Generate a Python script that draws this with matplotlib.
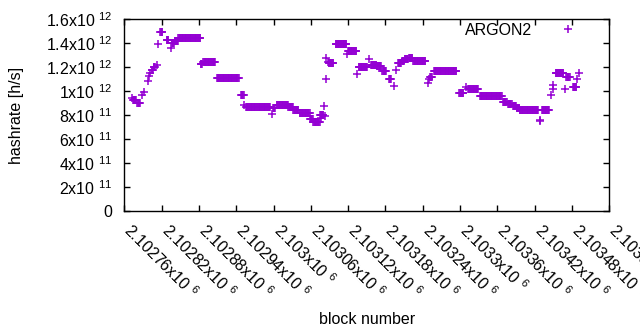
import numpy as np
import matplotlib
matplotlib.use("Agg")
import matplotlib.pyplot as plt
from matplotlib.transforms import blended_transform_factory, ScaledTranslation

plt.rcParams['font.family'] = ['Liberation Sans', 'DejaVu Sans']
plt.rcParams['mathtext.default'] = 'regular'

# ---- data (runs of constant hashrate) ----
run_start = [2102773, 2102774, 2102781, 2102789, 2102792, 2102798, 2102800, 2102802, 2102804, 2102807,
             2102812, 2102815, 2102818, 2102828, 2102835, 2102837, 2102841, 2102847, 2102883, 2102887,
             2102909, 2102948, 2102953, 2102956, 2102997, 2102999, 2103005, 2103024, 2103032, 2103042,
             2103059, 2103064, 2103075, 2103077, 2103081, 2103082, 2103084, 2103085, 2103087, 2103089,
             2103100, 2103118, 2103120, 2103134, 2103137, 2103154, 2103157, 2103166, 2103175, 2103186,
             2103194, 2103197, 2103200, 2103207, 2103211, 2103218, 2103225, 2103248, 2103250, 2103252,
             2103258, 2103299, 2103310, 2103313, 2103332, 2103369, 2103377, 2103385, 2103391, 2103396,
             2103428, 2103429, 2103432, 2103446, 2103449, 2103450, 2103454, 2103469, 2103471, 2103482,
             2103488, 2103491]
run_end = [2102773, 2102779, 2102785, 2102789, 2102792, 2102798, 2102800, 2102802, 2102806, 2102809,
           2102812, 2102815, 2102821, 2102831, 2102835, 2102840, 2102846, 2102882, 2102885, 2102906,
           2102944, 2102952, 2102953, 2102994, 2102997, 2103002, 2103023, 2103031, 2103040, 2103058,
           2103063, 2103074, 2103080, 2103077, 2103081, 2103082, 2103084, 2103085, 2103087, 2103096,
           2103117, 2103118, 2103133, 2103134, 2103150, 2103154, 2103165, 2103173, 2103181, 2103189,
           2103194, 2103197, 2103205, 2103210, 2103216, 2103223, 2103244, 2103248, 2103250, 2103255,
           2103294, 2103305, 2103310, 2103329, 2103367, 2103375, 2103383, 2103390, 2103395, 2103425,
           2103428, 2103429, 2103443, 2103446, 2103449, 2103450, 2103466, 2103469, 2103476, 2103487,
           2103488, 2103491]
run_hashrate_e12 = [0.942, 0.930, 0.905, 0.965, 0.990, 1.088, 1.125, 1.155, 1.180, 1.200,
                    1.215, 1.390, 1.497, 1.430, 1.357, 1.405, 1.420, 1.447, 1.230, 1.245,
                    1.107, 0.972, 0.888, 0.872, 0.808, 0.860, 0.887, 0.867, 0.847, 0.820,
                    0.770, 0.742, 0.800, 0.778, 0.875, 0.790, 1.100, 1.280, 1.240, 1.232,
                    1.398, 1.312, 1.332, 1.145, 1.198, 1.265, 1.222, 1.212, 1.165, 1.098,
                    1.045, 1.180, 1.235, 1.255, 1.268, 1.280, 1.250, 1.072, 1.105, 1.115,
                    1.172, 0.982, 1.032, 1.015, 0.957, 0.910, 0.895, 0.878, 0.860, 0.840,
                    0.748, 0.762, 0.840, 0.968, 1.020, 1.055, 1.155, 1.020, 1.115, 1.032,
                    1.100, 1.153]

series_label = "ARGON2"

x_tick_values = [2102760, 2102820, 2102880, 2102940, 2103000, 2103060, 2103120,
                 2103180, 2103240, 2103300, 2103360, 2103420, 2103480, 2103540]
x_tick_labels = ["2.10276x10 $^{6}$", "2.10282x10 $^{6}$", "2.10288x10 $^{6}$", "2.10294x10 $^{6}$",
                 "2.103x10 $^{6}$", "2.10306x10 $^{6}$", "2.10312x10 $^{6}$", "2.10318x10 $^{6}$",
                 "2.10324x10 $^{6}$", "2.1033x10 $^{6}$", "2.10336x10 $^{6}$", "2.10342x10 $^{6}$",
                 "2.10348x10 $^{6}$", "2.10354x10 $^{6}$"]
y_tick_values = [0, 2e11, 4e11, 6e11, 8e11, 1e12, 1.2e12, 1.4e12, 1.6e12]
y_tick_labels = ["0", "2x10 $^{11}$", "4x10 $^{11}$", "6x10 $^{11}$", "8x10 $^{11}$",
                 "1x10 $^{12}$", "1.2x10 $^{12}$", "1.4x10 $^{12}$", "1.6x10 $^{12}$"]

# ---- expand runs into one point per block ----
blocks = np.concatenate([np.arange(s, e + 1) for s, e in zip(run_start, run_end)])
hashrate = np.concatenate([np.full(e - s + 1, v * 1e12)
                           for s, e, v in zip(run_start, run_end, run_hashrate_e12)])

FS = 11.5
color = '#9400D3'

fig = plt.figure(figsize=(6.4, 3.3), dpi=100)
ax = fig.add_axes([124.3 / 640, 1 - 211 / 330, 485 / 640, 191.7 / 330])

ax.plot(blocks, hashrate, linestyle='none', marker='+', markersize=5.4,
        markeredgewidth=1.1, color=color, label=series_label)

ax.set_xlim(x_tick_values[0], x_tick_values[-1])
ax.set_ylim(y_tick_values[0], y_tick_values[-1])

for s in ax.spines.values():
    s.set_linewidth(1.0)
    s.set_color('black')

ax.set_yticks(y_tick_values)
ax.set_yticklabels(y_tick_labels, fontsize=FS)
ax.set_xticks(x_tick_values)
ax.set_xticklabels([''] * len(x_tick_values))
ax.tick_params(direction='in', length=4, width=1.0, top=True, right=True,
               color='black')
ax.tick_params(axis='y', pad=8.6)

# rotated x tick labels (gnuplot style, starting at the tick)
trans = blended_transform_factory(ax.transData, ax.transAxes) + \
    ScaledTranslation(-1.6 / 100, -20.6 / 100, fig.dpi_scale_trans)
for v, lab in zip(x_tick_values, x_tick_labels):
    ax.text(v, 0, lab, transform=trans, rotation=-45, rotation_mode='anchor',
            ha='left', va='baseline', fontsize=FS, clip_on=False)

ax.set_ylabel("hashrate [h/s]", fontsize=FS)
ax.yaxis.set_label_coords(-0.207, 0.5)
ax.set_xlabel("block number", fontsize=FS)
ax.xaxis.set_label_coords(0.5, -0.528)

leg = ax.legend(loc='upper right', bbox_to_anchor=(0.9635, 0.981), borderpad=0,
                borderaxespad=0, handlelength=3, handletextpad=0.7, frameon=False,
                markerfirst=False, fontsize=FS)

fig.savefig("out.png", dpi=100)
